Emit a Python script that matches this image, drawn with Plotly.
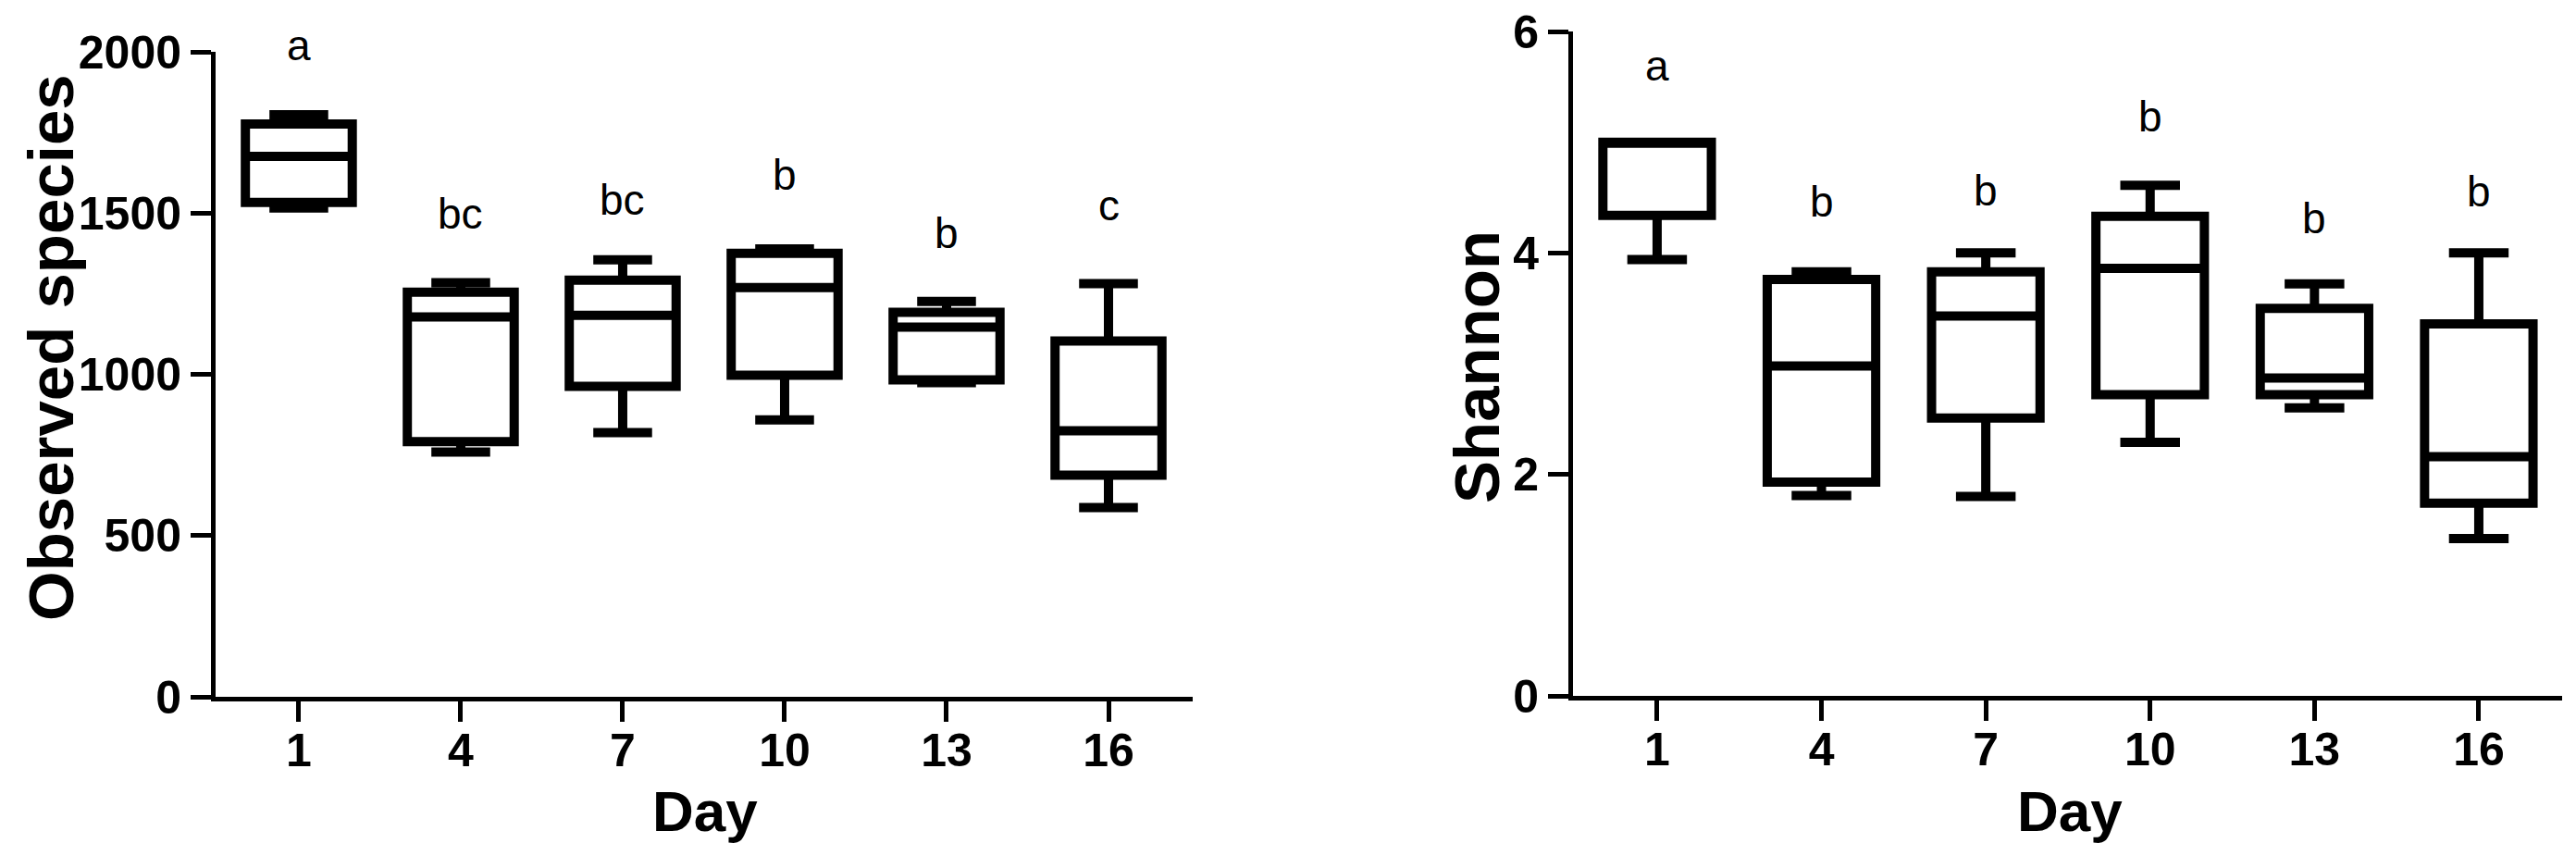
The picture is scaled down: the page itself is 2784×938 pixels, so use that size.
import plotly.graph_objects as go

W, H = 2784, 938
OFF = 8  # default page margin around the plot div

days = ["1", "4", "7", "10", "13", "16"]

# Observed species (left panel)
obs_lower = [1516, 759, 819, 859, 974, 587]
obs_q1 = [1533, 791, 963, 997, 983, 687]
obs_median = [1676, 1178, 1183, 1269, 1146, 825]
obs_q3 = [1776, 1255, 1292, 1375, 1192, 1103]
obs_upper = [1805, 1284, 1355, 1389, 1226, 1281]
obs_letters = ["a", "bc", "bc", "b", "b", "c"]
obs_letter_y = [1940, 1418, 1461, 1539, 1358, 1444]

# Shannon (right panel)
sh_lower = [3.94, 1.81, 1.80, 2.29, 2.60, 1.42]
sh_q1 = [4.34, 1.93, 2.51, 2.72, 2.72, 1.74]
sh_median = [4.99, 2.98, 3.43, 3.86, 2.87, 2.16]
sh_q3 = [5.0, 3.76, 3.83, 4.33, 3.50, 3.36]
sh_upper = [5.0, 3.83, 4.0, 4.61, 3.72, 4.0]
sh_letters = ["a", "b", "b", "b", "b", "b"]
sh_letter_y = [5.46, 4.23, 4.33, 5.00, 4.08, 4.32]

FONT = "Liberation Sans, Arial, sans-serif"


def px_x(p):
    return (p - OFF) / W


def px_y(p):
    return 1 - (p - OFF) / H


box_style = dict(
    line=dict(color="black", width=10),
    fillcolor="rgba(0,0,0,0)",
    width=0.66,
    whiskerwidth=0.55,
    boxpoints=False,
    showlegend=False,
    hoverinfo="skip",
)

fig = go.Figure()

fig.add_trace(go.Box(
    x=days, q1=obs_q1, median=obs_median, q3=obs_q3,
    lowerfence=obs_lower, upperfence=obs_upper,
    xaxis="x", yaxis="y", **box_style
))

fig.add_trace(go.Box(
    x=days, q1=sh_q1, median=sh_median, q3=sh_q3,
    lowerfence=sh_lower, upperfence=sh_upper,
    xaxis="x2", yaxis="y2", **box_style
))

axis_common = dict(
    showline=True, linecolor="black", linewidth=5,
    ticks="outside", ticklen=22, tickwidth=5, tickcolor="black",
    showgrid=False, zeroline=False, automargin=False,
    ticklabeloverflow="allow",
    tickfont=dict(family=FONT, size=50, color="black", weight="bold"),
)

fig.update_layout(
    width=W, height=H,
    margin=dict(l=0, r=0, t=0, b=0, autoexpand=False),
    paper_bgcolor="white", plot_bgcolor="white",
    xaxis=dict(domain=[px_x(233), px_x(1289)], anchor="y", type="category",
               range=[-0.514, 5.52], ticklabelstandoff=-12, **axis_common),
    yaxis=dict(domain=[px_y(753), px_y(56)], anchor="x", range=[0, 2000],
               tickvals=[0, 500, 1000, 1500, 2000], **axis_common),
    xaxis2=dict(domain=[px_x(1700), px_x(2769)], anchor="y2", type="category",
                range=[-0.512, 5.507], ticklabelstandoff=-12, **axis_common),
    yaxis2=dict(domain=[px_y(752), px_y(34)], anchor="x2", range=[0, 6],
                tickvals=[0, 2, 4, 6], **axis_common),
)

letter_font = dict(family=FONT, size=46, color="black")
annotations = []
# category axes: annotations use the category index
for i, (t, y) in enumerate(zip(obs_letters, obs_letter_y)):
    annotations.append(dict(x=i, y=y, xref="x", yref="y", text=t, showarrow=False,
                            xanchor="center", yanchor="bottom", font=letter_font))
for i, (t, y) in enumerate(zip(sh_letters, sh_letter_y)):
    annotations.append(dict(x=i, y=y, xref="x2", yref="y2", text=t, showarrow=False,
                            xanchor="center", yanchor="bottom", font=letter_font))

title_font = dict(family=FONT, size=69, color="black", weight="bold")
day_font = dict(family=FONT, size=62, color="black", weight="bold")
annotations += [
    dict(x=px_x(55), y=px_y(376), xref="paper", yref="paper", text="Observed species",
         textangle=-90, showarrow=False, xanchor="center", yanchor="middle", font=title_font),
    dict(x=px_x(1596), y=px_y(397), xref="paper", yref="paper", text="Shannon",
         textangle=-90, showarrow=False, xanchor="center", yanchor="middle", font=title_font),
    dict(x=px_x(762), y=px_y(876), xref="paper", yref="paper", text="Day",
         showarrow=False, xanchor="center", yanchor="middle", font=day_font),
    dict(x=px_x(2237), y=px_y(876), xref="paper", yref="paper", text="Day",
         showarrow=False, xanchor="center", yanchor="middle", font=day_font),
]
fig.update_layout(annotations=annotations)

fig.write_html("out.html")
